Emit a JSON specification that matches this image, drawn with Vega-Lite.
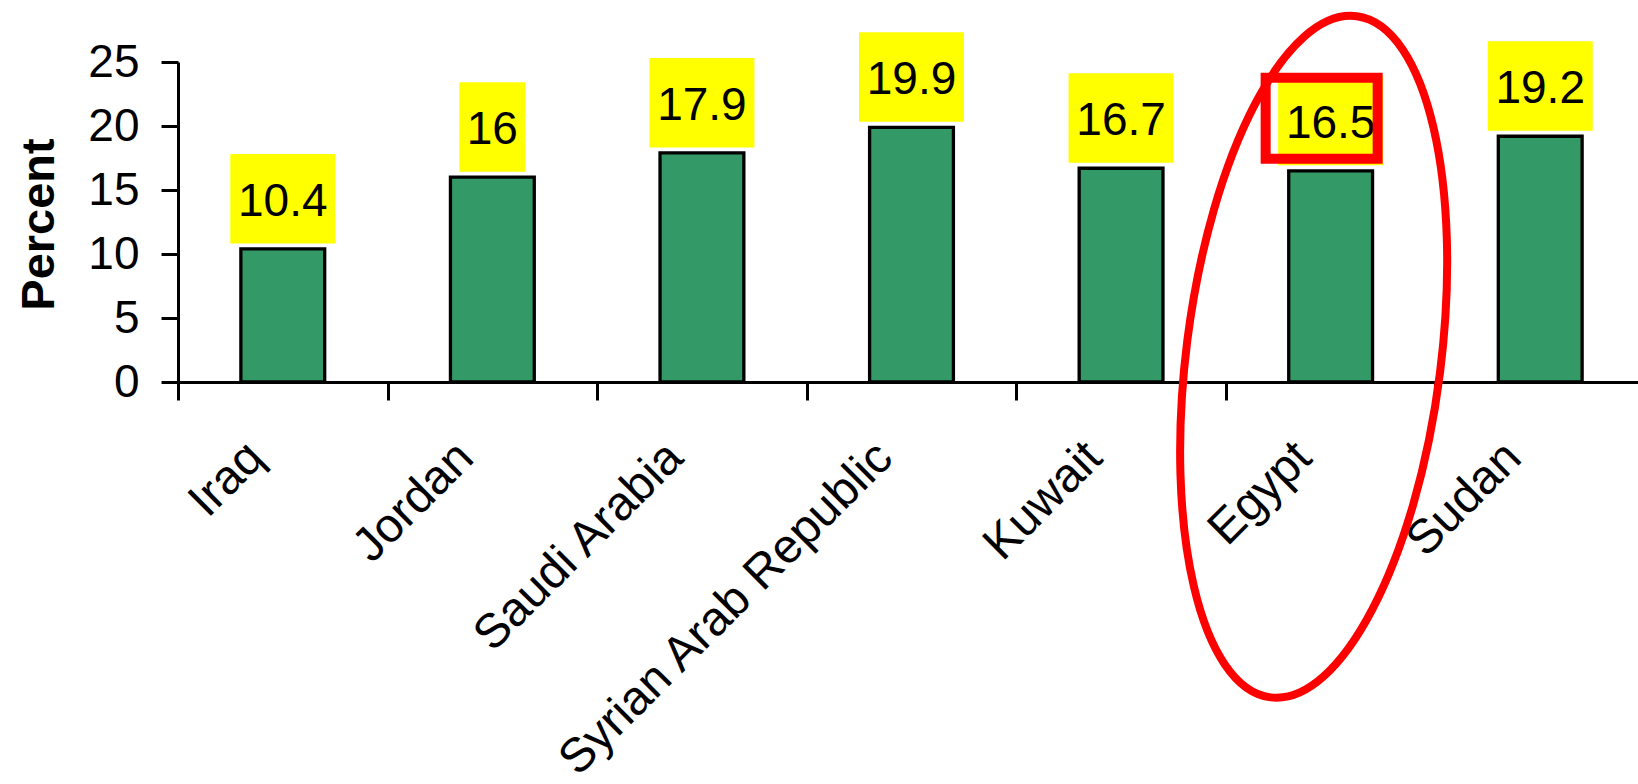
{
  "$schema": "https://vega.github.io/schema/vega-lite/v6.json",
  "width": 1460,
  "height": 320,
  "autosize": {"type": "none"},
  "padding": {"left": 178, "top": 62, "right": 0, "bottom": 402},
  "background": "white",
  "config": {
    "view": {"stroke": null},
    "font": "Liberation Sans"
  },
  "data": {
    "values": [
      {"country": "Iraq", "value": 10.4},
      {"country": "Jordan", "value": 16},
      {"country": "Saudi Arabia", "value": 17.9},
      {"country": "Syrian Arab Republic", "value": 19.9},
      {"country": "Kuwait", "value": 16.7},
      {"country": "Egypt", "value": 16.5},
      {"country": "Sudan", "value": 19.2}
    ]
  },
  "encoding": {
    "x": {
      "field": "country",
      "type": "nominal",
      "sort": null,
      "scale": {"range": [0, 1467], "paddingInner": 0, "paddingOuter": 0},
      "axis": {
        "title": null,
        "labelAngle": -45,
        "labelAlign": "right",
        "labelBaseline": "middle",
        "labelFont": "Liberation Sans",
        "labelFontSize": 48,
        "labelColor": "black",
        "labelPadding": 50,
        "labelOffset": -27,
        "labelLimit": 1000,
        "labelOverlap": false,
        "labelBound": false,
        "tickBand": "extent",
        "tickSize": 18,
        "tickWidth": 3,
        "tickColor": "black",
        "domainColor": "black",
        "domainWidth": 3
      }
    },
    "y": {
      "field": "value",
      "type": "quantitative",
      "scale": {"domain": [0, 25], "nice": false},
      "axis": {
        "title": "Percent",
        "titleFont": "Liberation Sans",
        "titleFontSize": 47,
        "titleFontWeight": "bold",
        "titleColor": "black",
        "titleX": -125,
        "titleY": 162,
        "titleAlign": "center",
        "titleBaseline": "alphabetic",
        "values": [0, 5, 10, 15, 20, 25],
        "labelFont": "Liberation Sans",
        "labelFontSize": 46,
        "labelColor": "black",
        "labelPadding": 22,
        "labelBaseline": "middle",
        "tickSize": 17,
        "tickWidth": 3,
        "tickColor": "black",
        "domainColor": "black",
        "domainWidth": 3,
        "grid": false
      }
    }
  },
  "layer": [
    {
      "mark": {"type": "bar", "width": {"band": 0.4}, "fill": "#339966", "stroke": "black", "strokeWidth": 3.3}
    },
    {
      "mark": {"type": "bar", "fill": "#FFFF00", "yOffset": -95, "y2Offset": -5.5},
      "encoding": {
        "y2": {"field": "value"},
        "size": {"condition": {"test": "length(toString(datum.value)) > 2", "value": 105}, "value": 66}
      }
    },
    {
      "mark": {"type": "text", "font": "Liberation Sans", "fontSize": 46, "color": "black", "align": "center", "baseline": "alphabetic", "dy": -33},
      "encoding": {
        "text": {"field": "value", "type": "quantitative", "format": "~g"}
      }
    },
    {
      "transform": [{"filter": "datum.country === 'Egypt'"}],
      "mark": {"type": "bar", "filled": false, "stroke": "#FF0000", "strokeWidth": 10, "width": 112, "xOffset": -9, "yOffset": -93, "y2Offset": -12},
      "encoding": {
        "y2": {"field": "value"}
      }
    },
    {
      "transform": [{"filter": "datum.country === 'Egypt'"}],
      "mark": {
        "type": "point",
        "shape": "M0,-1A0.371,1,0,1,1,0,1A0.371,1,0,1,1,0,-1Z",
        "size": 471420,
        "angle": 7.2,
        "filled": false,
        "stroke": "#FF0000",
        "strokeWidth": 8,
        "opacity": 1,
        "xOffset": -17,
        "yOffset": 186
      }
    }
  ]
}
